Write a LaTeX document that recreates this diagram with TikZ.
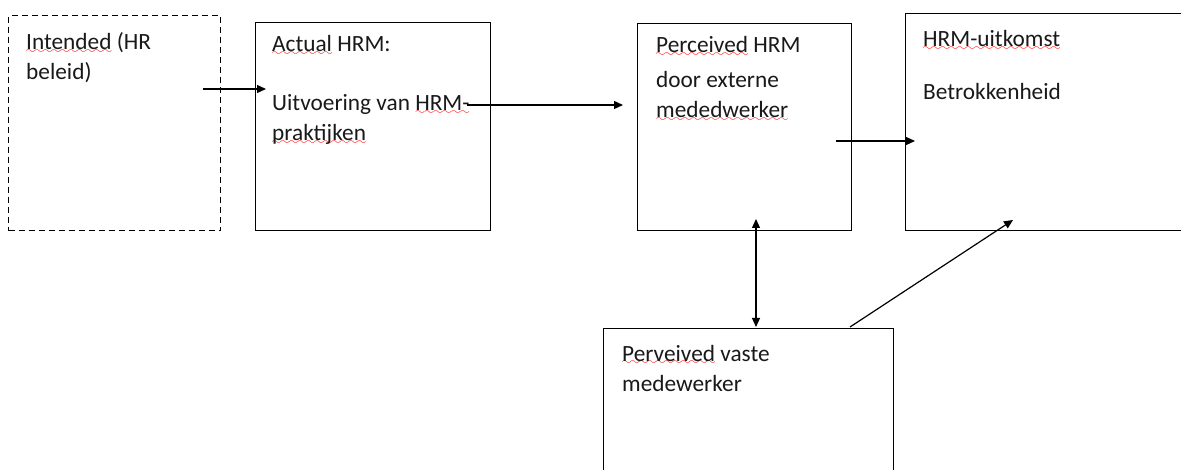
\documentclass[tikz,border=0pt]{standalone}
\usepackage{fontspec}
\setmainfont{Carlito}
\usetikzlibrary{arrows.meta}
\font\wavefont=lasy6 at 10pt
\newsavebox\sqbox
\newcommand\redsq[1]{\sbox\sqbox{#1}\rlap{\raisebox{-3.6pt}{\hbox to\wd\sqbox{\color{red}\wavefont\xleaders\hbox{\char58}\hfil}}}\usebox\sqbox}
\begin{document}
\begin{tikzpicture}[x=1pt,y=-1pt,
  box/.style={draw, line width=1.2pt, anchor=north west, inner sep=0pt},
  dbox/.style={box, dash pattern=on 6pt off 4pt},
  txt/.style={anchor=base west, align=left, inner sep=0pt, text=black!90,
    font=\fontsize{23.3}{30}\selectfont},
  conn/.style={line width=1.2pt, -{Triangle[length=9pt,width=8pt]}},
  dconn/.style={line width=1.2pt, {Triangle[length=9pt,width=8pt]}-{Triangle[length=9pt,width=8pt]}}]
\useasboundingbox (0,0) rectangle (1181,470);
\clip (0,0) rectangle (1181,470);
% boxes
\node[dbox, minimum width=212pt, minimum height=215pt] (b1) at (8,15) {};
\node[box, minimum width=235pt, minimum height=208pt] (b2) at (255,22) {};
\node[box, minimum width=214pt, minimum height=207pt] (b3) at (637,23) {};
\node[box, minimum width=300pt, minimum height=217pt] (b4) at (905,13) {};
\node[box, minimum width=290pt, minimum height=170pt] (b5) at (603,328) {};
% texts (anchored at the baseline of their last line)
\node[txt] (t1) at (26,80) {\redsq{Intended} (HR\\beleid)};
\node[txt] (t2) at (272,141) {\redsq{Actual} HRM:\\[29pt]Uitvoering van \redsq{HRM-}\\\redsq{praktijken}};
\node[txt] (t3) at (656,118) {\redsq{Perceived} HRM\\[5pt]door externe\\\redsq{mededwerker}};
\node[txt] (t4) at (923,100) {\redsq{HRM-uitkomst}\\[23pt]Betrokkenheid};
\node[txt] (t5) at (622,391) {\redsq{Perveived} vaste\\medewerker};
% connector end points
\coordinate (a1s) at (203,89);
\coordinate (a1e) at (266,89);
\coordinate (a2s) at (467,105);
\coordinate (a2e) at (623,105);
\coordinate (a3s) at (836,141);
\coordinate (a3e) at (915,141);
\coordinate (a4s) at (756,219);
\coordinate (a4e) at (756,327);
\coordinate (a5s) at (850,327);
\coordinate (a5e) at (1013,220);
% connectors
\draw[conn] (a1s) -- (a1e);
\draw[conn] (a2s) -- (a2e);
\draw[conn] (a3s) -- (a3e);
\draw[dconn] (a4s) -- (a4e);
\draw[conn] (a5s) -- (a5e);
\end{tikzpicture}
\end{document}
